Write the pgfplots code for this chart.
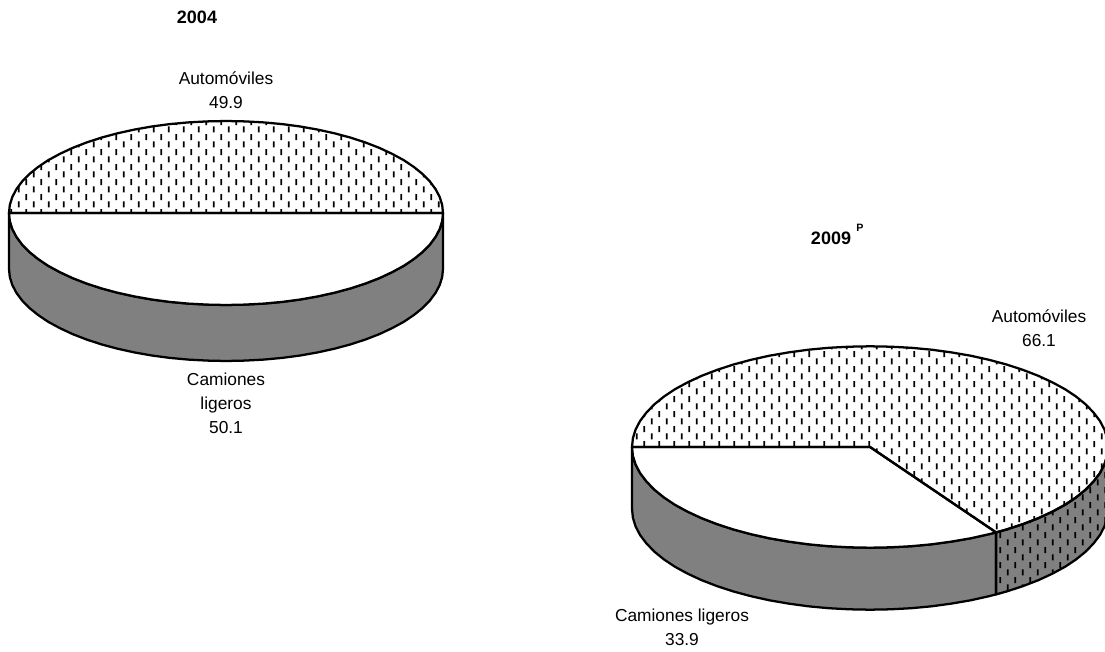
\documentclass[border=0pt]{standalone}
\usepackage{fontspec}
\setmainfont{Liberation Sans}
\usepackage{pgfplots}
\pgfplotsset{compat=1.18}
\usepackage{pgfplotstable}
\usetikzlibrary{patterns}
\pgfdeclarepatternformonly{vdash}{\pgfqpoint{0pt}{0pt}}{\pgfqpoint{11.6pt}{11.5pt}}{\pgfqpoint{11.6pt}{11.5pt}}{
  \pgfsetlinewidth{1.25pt}
  \pgfpathmoveto{\pgfqpoint{2.9pt}{0.4pt}}\pgfpathlineto{\pgfqpoint{2.9pt}{5.1pt}}
  \pgfpathmoveto{\pgfqpoint{8.7pt}{6.15pt}}\pgfpathlineto{\pgfqpoint{8.7pt}{10.85pt}}
  \pgfusepath{stroke}}
\definecolor{sidegray}{HTML}{808080}
% rim of the 2004 pie, left half to right half
\pgfplotstableread{
x up low
9.0 213 213
9.8 205 221
12.3 197 229
16.4 189.2 236.8
22.1 181.5 244.5
29.3 174.1 251.9
38.1 167 259
48.2 160.2 265.8
59.8 153.9 272.1
72.6 147.9 278.1
86.5 142.5 283.5
101.5 137.6 288.4
117.5 133.3 292.7
134.3 129.6 296.4
151.8 126.5 299.5
169.8 124.1 301.9
188.3 122.4 303.6
207.1 121.4 304.6
226 121 305
244.9 121.4 304.6
263.7 122.4 303.6
282.2 124.1 301.9
300.2 126.5 299.5
317.7 129.6 296.4
334.5 133.3 292.7
350.5 137.6 288.4
365.5 142.5 283.5
379.4 147.9 278.1
392.2 153.9 272.1
403.8 160.2 265.8
413.9 167 259
422.7 174.1 251.9
429.9 181.5 244.5
435.6 189.2 236.8
439.7 197 229
442.2 205 221
443 213 213
}\pieA
\begin{document}
\begin{tikzpicture}
\useasboundingbox (0,0) rectangle (828.75pt,489pt);
\begin{axis}[
  scale only axis, width=828.75pt, height=489pt,
  xmin=0, xmax=1105, ymin=0, ymax=652, y dir=reverse,
  hide axis, clip=true,
  every axis plot/.append style={line join=round, line width=1.7pt}
]
% ---- 2004 ----
\addplot[draw=black, fill=sidegray, mark=none] coordinates {
(9,213)(9.8,221)(12.3,229)(16.4,236.8)(22.1,244.5)(29.3,251.9)(38.1,259)(48.2,265.8)(59.8,272.1)(72.6,278.1)(86.5,283.5)(101.5,288.4)(117.5,292.7)(134.3,296.4)(151.8,299.5)(169.8,301.9)(188.3,303.6)(207.1,304.6)(226,305)(244.9,304.6)(263.7,303.6)(282.2,301.9)(300.2,299.5)(317.7,296.4)(334.5,292.7)(350.5,288.4)(365.5,283.5)(379.4,278.1)(392.2,272.1)(403.8,265.8)(413.9,259)(422.7,251.9)(429.9,244.5)(435.6,236.8)(439.7,229)(442.2,221)(443,213)
(443,269)(442.2,277)(439.7,285)(435.6,292.8)(429.9,300.5)(422.7,307.9)(413.9,315)(403.8,321.8)(392.2,328.1)(379.4,334.1)(365.5,339.5)(350.5,344.4)(334.5,348.7)(317.7,352.4)(300.2,355.5)(282.2,357.9)(263.7,359.6)(244.9,360.6)(226,361)(207.1,360.6)(188.3,359.6)(169.8,357.9)(151.8,355.5)(134.3,352.4)(117.5,348.7)(101.5,344.4)(86.5,339.5)(72.6,334.1)(59.8,328.1)(48.2,321.8)(38.1,315)(29.3,307.9)(22.1,300.5)(16.4,292.8)(12.3,285)(9.8,277)(9,269)
} -- cycle;
\addplot[draw=black, fill=white, mark=none] table[x=x,y=low] {\pieA} -- cycle;
\addplot[draw=none, pattern=vdash, pattern color=black, mark=none] table[x=x,y=up] {\pieA} -- cycle;
\addplot[draw=black, mark=none] table[x=x,y=up] {\pieA} -- cycle;
% ---- 2009 ----
% side, Camiones ligeros
\addplot[draw=black, fill=sidegray, mark=none] coordinates {
(632,447)(632.9,455.8)(635.6,464.5)(640.1,473.1)(646.4,481.4)(654.3,489.6)(663.9,497.4)(675,504.8)(687.7,511.7)(701.7,518.2)(717,524.1)(733.5,529.5)(751,534.2)(769.4,538.3)(788.6,541.6)(808.4,544.3)(828.7,546.2)(849.2,547.3)(870,547.7)(890.8,547.3)(911.3,546.2)(931.6,544.3)(951.4,541.6)(970.6,538.3)(989,534.2)(996.1,532.4)
(996.1,594.4)(989,596.2)(970.6,600.3)(951.4,603.6)(931.6,606.3)(911.3,608.2)(890.8,609.3)(870,609.7)(849.2,609.3)(828.7,608.2)(808.4,606.3)(788.6,603.6)(769.4,600.3)(751,596.2)(733.5,591.5)(717,586.1)(701.7,580.2)(687.7,573.7)(675,566.8)(663.9,559.4)(654.3,551.6)(646.4,543.4)(640.1,535.1)(635.6,526.5)(632.9,517.8)(632,509)
} -- cycle;
% side, Automóviles
\addplot[draw=black, fill=sidegray, mark=none] coordinates {
(996.1,532.4)(1006.5,529.5)(1023,524.1)(1038.3,518.2)(1052.3,511.7)(1065,504.8)(1076.1,497.4)(1085.7,489.6)(1093.6,481.4)(1099.9,473.1)(1104.4,464.5)(1107.1,455.8)(1108,447)
(1108,509)(1107.1,517.8)(1104.4,526.5)(1099.9,535.1)(1093.6,543.4)(1085.7,551.6)(1076.1,559.4)(1065,566.8)(1052.3,573.7)(1038.3,580.2)(1023,586.1)(1006.5,591.5)(996.1,594.4)
} -- cycle;
\addplot[draw=none, pattern=vdash, pattern color=black, mark=none] coordinates {
(996.1,532.4)(1006.5,529.5)(1023,524.1)(1038.3,518.2)(1052.3,511.7)(1065,504.8)(1076.1,497.4)(1085.7,489.6)(1093.6,481.4)(1099.9,473.1)(1104.4,464.5)(1107.1,455.8)(1108,447)
(1108,509)(1107.1,517.8)(1104.4,526.5)(1099.9,535.1)(1093.6,543.4)(1085.7,551.6)(1076.1,559.4)(1065,566.8)(1052.3,573.7)(1038.3,580.2)(1023,586.1)(1006.5,591.5)(996.1,594.4)
} -- cycle;
% top, Camiones ligeros
\addplot[draw=black, fill=white, mark=none] coordinates {
(870,447)(632,447)(632.9,455.8)(635.6,464.5)(640.1,473.1)(646.4,481.4)(654.3,489.6)(663.9,497.4)(675,504.8)(687.7,511.7)(701.7,518.2)(717,524.1)(733.5,529.5)(751,534.2)(769.4,538.3)(788.6,541.6)(808.4,544.3)(828.7,546.2)(849.2,547.3)(870,547.7)(890.8,547.3)(911.3,546.2)(931.6,544.3)(951.4,541.6)(970.6,538.3)(989,534.2)(996.1,532.4)
} -- cycle;
% top, Automóviles
\addplot[draw=none, pattern=vdash, pattern color=black, mark=none] coordinates {
(870,447)(632,447)(632.9,438.2)(635.6,429.5)(640.1,420.9)(646.4,412.6)(654.3,404.4)(663.9,396.6)(675,389.2)(687.7,382.3)(701.7,375.8)(717,369.9)(733.5,364.5)(751,359.8)(769.4,355.7)(788.6,352.4)(808.4,349.7)(828.7,347.8)(849.2,346.7)(870,346.3)(890.8,346.7)(911.3,347.8)(931.6,349.7)(951.4,352.4)(970.6,355.7)(989,359.8)(1006.5,364.5)(1023,369.9)(1038.3,375.8)(1052.3,382.3)(1065,389.2)(1076.1,396.6)(1085.7,404.4)(1093.6,412.6)(1099.9,420.9)(1104.4,429.5)(1107.1,438.2)(1108,447)(1107.1,455.8)(1104.4,464.5)(1099.9,473.1)(1093.6,481.4)(1085.7,489.6)(1076.1,497.4)(1065,504.8)(1052.3,511.7)(1038.3,518.2)(1023,524.1)(1006.5,529.5)(996.1,532.4)
} -- cycle;
\addplot[draw=black, mark=none] coordinates {
(870,447)(632,447)(632.9,438.2)(635.6,429.5)(640.1,420.9)(646.4,412.6)(654.3,404.4)(663.9,396.6)(675,389.2)(687.7,382.3)(701.7,375.8)(717,369.9)(733.5,364.5)(751,359.8)(769.4,355.7)(788.6,352.4)(808.4,349.7)(828.7,347.8)(849.2,346.7)(870,346.3)(890.8,346.7)(911.3,347.8)(931.6,349.7)(951.4,352.4)(970.6,355.7)(989,359.8)(1006.5,364.5)(1023,369.9)(1038.3,375.8)(1052.3,382.3)(1065,389.2)(1076.1,396.6)(1085.7,404.4)(1093.6,412.6)(1099.9,420.9)(1104.4,429.5)(1107.1,438.2)(1108,447)(1107.1,455.8)(1104.4,464.5)(1099.9,473.1)(1093.6,481.4)(1085.7,489.6)(1076.1,497.4)(1065,504.8)(1052.3,511.7)(1038.3,518.2)(1023,524.1)(1006.5,529.5)(996.1,532.4)
} -- cycle;
% labels
\def\lab#1#2#3{\node[anchor=base, inner sep=0pt, font=\fontsize{13pt}{15pt}\selectfont] at (axis cs:#1,#2) {#3};}
\lab{226}{85}{Automóviles}
\lab{226}{109}{49.9}
\lab{226}{385}{Camiones}
\lab{226}{409}{ligeros}
\lab{226}{433}{50.1}
\lab{1039}{322}{Automóviles}
\lab{1039}{346}{66.1}
\lab{682}{621}{Camiones ligeros}
\lab{682}{645}{33.9}
\node[anchor=base, inner sep=0pt, font=\fontsize{13.5pt}{15pt}\selectfont\bfseries] at (axis cs:197,24) {2004};
\node[anchor=base, inner sep=0pt, font=\fontsize{13.5pt}{15pt}\selectfont\bfseries] at (axis cs:831,244) {2009};
\node[anchor=base, inner sep=0pt, font=\fontsize{8pt}{10pt}\selectfont\bfseries] at (axis cs:860,232) {P};
\end{axis}
\end{tikzpicture}
\end{document}
